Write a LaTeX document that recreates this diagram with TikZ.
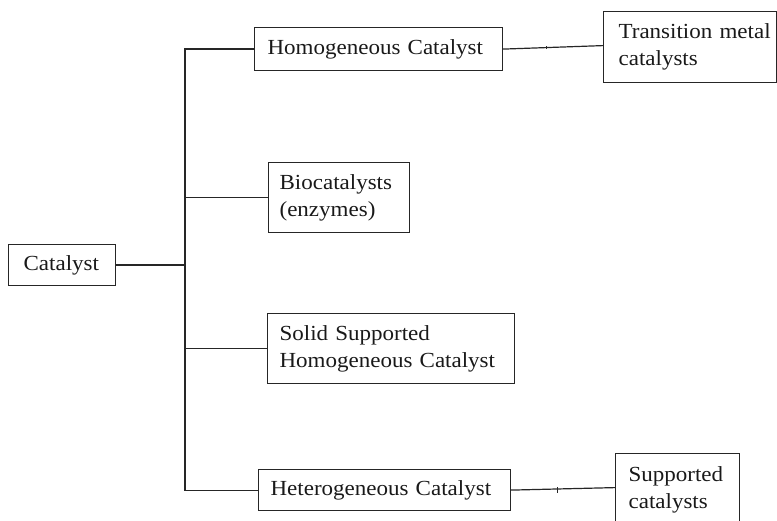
\documentclass[tikz,border=0pt]{standalone}
\usepackage{fontspec}
\setmainfont{Liberation Serif}[FakeStretch=1.07]
\usetikzlibrary{calc}
\begin{document}
\begin{tikzpicture}[x=1pt,y=-1pt,
  line width=1.2pt, color=black!85,
  box/.style={draw, anchor=north west, inner ysep=0pt, align=left,
    font=\fontsize{21.5}{27}\selectfont, text=black!90},
  conn/.style={draw, line width=1.2pt}]
\useasboundingbox (0,0) rectangle (777,521);
% boxes: text width = W - 2*xsep
\node[box, inner xsep=15pt, text width=77pt, minimum height=41pt] (cat) at (8,244) {Catalyst};
\node[box, inner xsep=13pt, text width=222pt, minimum height=43pt] (homo) at (254,27) {Homogeneous Catalyst};
\node[box, inner xsep=11pt, text width=119pt, minimum height=70pt] (bio) at (268,162) {Biocatalysts\\(enzymes)};
\node[box, inner xsep=12pt, text width=223pt, minimum height=70pt] (solid) at (267,313) {Solid Supported\\Homogeneous Catalyst};
\node[box, inner xsep=12pt, text width=228pt, minimum height=41pt] (hetero) at (258,469) {Heterogeneous Catalyst};
\node[box, inner xsep=5pt, text width=163pt, minimum height=71pt] (trans) at (603,11) {\hspace*{10pt}Transition metal\\\hspace*{10pt}catalysts};
\node[box, inner xsep=13pt, text width=98pt, minimum height=73pt] (supp) at (615,453) {Supported\\catalysts};
% trunk
\coordinate (trk) at (185,0);
\draw[conn] (cat.east) -- (cat.east -| trk);
\draw[conn] (homo.west) -- (homo.west -| trk) -- (hetero.west -| trk) -- (hetero.west);
\draw[conn] (bio.west) -- (bio.west -| trk);
\draw[conn] (solid.west) -- (solid.west -| trk);
% right connectors
\coordinate (tw) at ($(trans.west)+(0,-1.5)$);
\draw[conn] (homo.east) -- (tw);
\coordinate (sw) at ($(supp.west)+(0,-2.5)$);
\draw[conn] (hetero.east) -- (sw);
% small ticks
\coordinate (tk1) at ($(homo.east)!0.43!(tw)$);
\draw[line width=0.8pt] ($(tk1)+(0,-1.5)$) -- ($(tk1)+(0,1.5)$);
\coordinate (tk2) at ($(hetero.east)!0.45!(sw)$);
\draw[line width=1pt] ($(tk2)+(0,-2)$) -- ($(tk2)+(0,4)$);
\end{tikzpicture}
\end{document}
